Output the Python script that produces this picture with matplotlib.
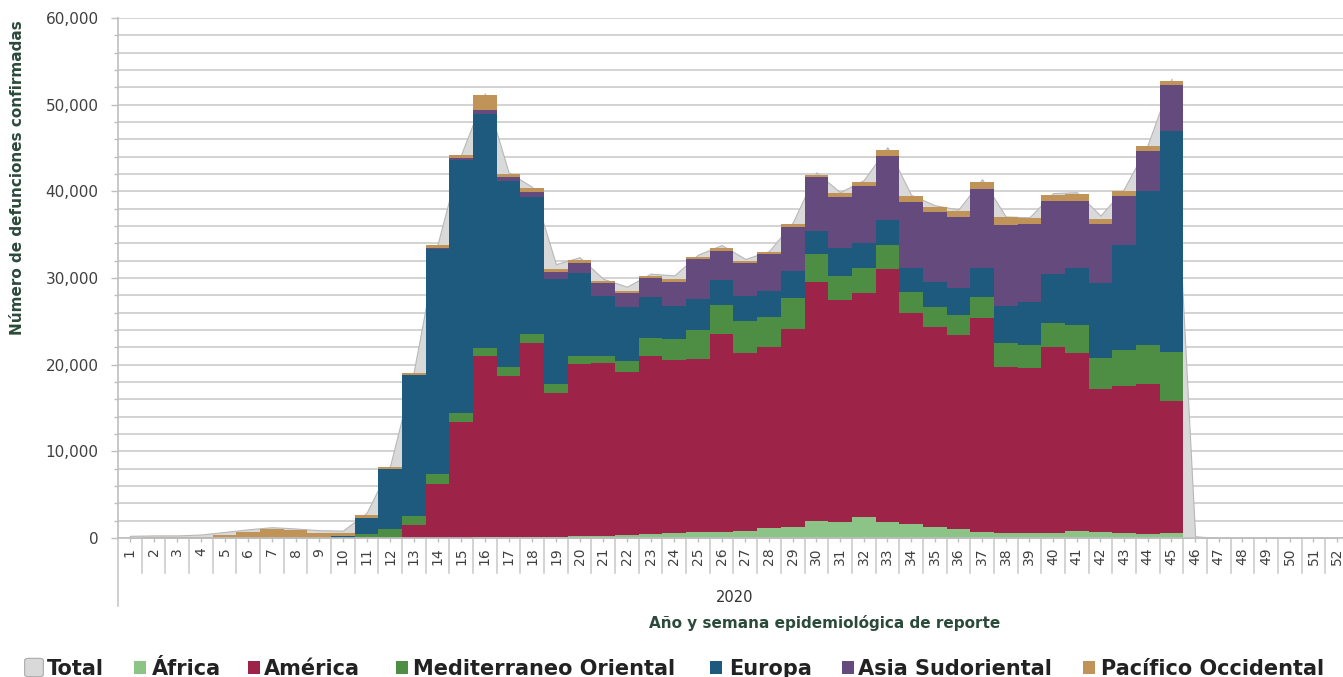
import matplotlib
matplotlib.use("Agg")
import matplotlib.pyplot as plt
import matplotlib.transforms as mtransforms
from matplotlib.patches import Rectangle, FancyBboxPatch
from matplotlib.ticker import MultipleLocator, FuncFormatter
import numpy as np

# ---------------- data ----------------
weeks = list(range(1, 53))
week_labels = [str(w) for w in weeks]
year_label = "2020"

africa = [0, 0, 0, 0, 0, 0, 0, 0, 0, 0,
          0, 0, 0, 0, 50, 150, 100, 100, 150, 200,
          250, 350, 460, 620, 660, 730, 810, 1190, 1300, 2000,
          1880, 2390, 1880, 1620, 1230, 1000, 730, 620, 540, 620,
          810, 730, 620, 460, 620, 0, 0, 0, 0, 0, 0, 0]
america = [0, 0, 0, 0, 0, 0, 0, 0, 0, 0,
           0, 0, 1500, 6230, 13300, 20850, 18600, 22370, 16550, 19880,
           19910, 18840, 20540, 19920, 19960, 22810, 20570, 20820, 22780, 27580,
           25580, 25920, 29120, 24310, 23150, 22430, 24690, 19160, 19040, 21460,
           20500, 16430, 16920, 17310, 15220, 0, 0, 0, 0, 0, 0, 0]
mediterraneo = [0, 0, 0, 0, 0, 0, 0, 0, 0, 0,
                450, 1040, 1070, 1120, 1110, 890, 1000, 1070, 1070, 960,
                880, 1240, 2040, 2390, 3380, 3380, 3700, 3530, 3580, 3190,
                2810, 2810, 2810, 2490, 2310, 2300, 2430, 2690, 2690, 2770,
                3270, 3580, 4160, 4500, 5660, 0, 0, 0, 0, 0, 0, 0]
europa = [0, 0, 0, 0, 0, 0, 0, 0, 0, 250,
          1900, 6960, 16210, 25960, 29160, 27000, 21500, 15780, 12080, 9580,
          6920, 6260, 4810, 3840, 3580, 2850, 2880, 3000, 3190, 2690,
          3160, 2880, 2890, 2700, 2890, 3080, 3270, 4300, 4950, 5620,
          6540, 8650, 12110, 17810, 25500, 0, 0, 0, 0, 0, 0, 0]
asia = [0, 0, 0, 0, 0, 0, 0, 0, 0, 0,
        0, 0, 0, 100, 200, 500, 420, 650, 900, 1080,
        1430, 1540, 2120, 2810, 4580, 3390, 3810, 4230, 5000, 6160,
        5960, 6660, 7380, 7690, 8080, 8200, 9120, 9350, 9040, 8460,
        7810, 6850, 5690, 4620, 5280, 0, 0, 0, 0, 0, 0, 0]
pacifico = [50, 80, 100, 150, 400, 700, 1000, 900, 600, 350,
            300, 230, 300, 390, 340, 1730, 350, 380, 310, 350,
            270, 300, 300, 310, 300, 340, 230, 200, 390, 270,
            390, 460, 700, 660, 580, 760, 880, 890, 650, 650,
            770, 570, 580, 540, 460, 0, 0, 0, 0, 0, 0, 0]
total = [250, 300, 300, 400, 700, 1000, 1250, 1100, 900, 850,
         2900, 8400, 19300, 33900, 44300, 51300, 42200, 40500, 31600, 32400,
         29900, 29000, 30500, 30300, 32700, 33800, 32200, 33100, 36400, 42200,
         39900, 41300, 45100, 39600, 38400, 37900, 41400, 37100, 37000, 39800,
         39900, 37200, 40300, 45400, 53000, 200, 0, 0, 0, 0, 0, 0]

series_names = ["África", "América", "Mediterraneo Oriental", "Europa",
                "Asia Sudoriental", "Pacífico Occidental"]
series_values = [africa, america, mediterraneo, europa, asia, pacifico]
series_colors = ["#8cc487", "#9e2348", "#4e8d44", "#1d5a7d", "#654a7e", "#c09358"]
total_name = "Total"
total_color = "#d9d9d9"

# ---------------- figure ----------------
W, H = 1343, 677
fig = plt.figure(figsize=(W / 100, H / 100), dpi=100)
ax = fig.add_axes([118 / W, 1 - 538 / H, 1231 / W, 520 / H])

x = np.array(weeks)
ax.fill_between(x, total, 0, facecolor=total_color, edgecolor="#b8b8b8",
                linewidth=0.8, zorder=1)

bottom = np.zeros(len(weeks))
for name, vals, col in zip(series_names, series_values, series_colors):
    v = np.array(vals, dtype=float)
    ax.bar(x, v, width=1.0, bottom=bottom, color=col, edgecolor="none",
           linewidth=0, zorder=2)
    bottom += v

ax.set_xlim(0.5, 52.5)
ax.set_ylim(0, 60000)

# y axis
ax.yaxis.set_major_locator(MultipleLocator(10000))
ax.yaxis.set_minor_locator(MultipleLocator(2000))
ax.yaxis.set_major_formatter(FuncFormatter(lambda v, p: f"{int(v):,}"))
ax.grid(axis="y", which="both", color="#cccccc", linewidth=1.2, zorder=0)
ax.set_axisbelow(True)
ax.tick_params(axis="y", which="major", length=5, width=1, color="#bfbfbf",
               labelsize=11, labelcolor="#404040", pad=9)
ax.tick_params(axis="y", which="minor", length=3, width=1, color="#bfbfbf")

# x axis
ax.set_xticks(x)
ax.set_xticklabels(week_labels, rotation=90, fontsize=10, color="#404040")
ax.tick_params(axis="x", which="major", length=3, width=1, color="#bfbfbf", pad=4)

for s in ["top", "right"]:
    ax.spines[s].set_visible(False)
for s in ["left", "bottom"]:
    ax.spines[s].set_color("#bfbfbf")
    ax.spines[s].set_linewidth(1.2)

# category separators below axis
trans = mtransforms.blended_transform_factory(ax.transData, ax.transAxes)
for b in np.arange(1.5, 52.5, 1.0):
    ax.plot([b, b], [0, -35 / 520], transform=trans, color="#c8c8c8",
            linewidth=1.1, clip_on=False, zorder=0)
ax.plot([0.5, 0.5], [0, -68 / 520], transform=trans, color="#c8c8c8",
        linewidth=1.2, clip_on=False, zorder=0)

# year label and axis titles
fig.text(735 / W, 1 - 597 / H, year_label, ha="center", va="center",
         fontsize=10.5, color="#333333")
fig.text(825 / W, 1 - 623 / H, "Año y semana epidemiológica de reporte",
         ha="center", va="center", fontsize=11, fontweight="bold",
         color="#2c4a3c")
fig.text(18 / W, 1 - 178 / H, "Número de defunciones confirmadas",
         ha="center", va="center", rotation=90, fontsize=11,
         fontweight="bold", color="#2c4a3c")

# legend (manual)
leg_items = [(total_name, total_color, 26, 47)] + [
    (n, c, sx, tx) for n, c, sx, tx in zip(
        series_names, series_colors,
        [134, 248, 396, 710, 842, 1083],
        [152, 264, 413, 729, 858, 1101])]
base_y = 1 - 675 / H
for name, col, sx, tx in leg_items:
    if name == total_name:
        fig.patches.append(FancyBboxPatch((sx / W, 1 - 676 / H), 16 / W, 17 / H,
                                          boxstyle="round,pad=0.001,rounding_size=0.003",
                                          transform=fig.transFigure,
                                          facecolor=col, edgecolor="#aaaaaa",
                                          linewidth=0.8))
    else:
        fig.patches.append(Rectangle((sx / W, 1 - 674 / H), 12 / W, 13 / H,
                                     transform=fig.transFigure,
                                     facecolor=col, edgecolor="none"))
    fig.text(tx / W, base_y, name, ha="left", va="baseline", fontsize=15,
             fontweight="bold", color="#222222")

fig.savefig("out.png", dpi=100)
